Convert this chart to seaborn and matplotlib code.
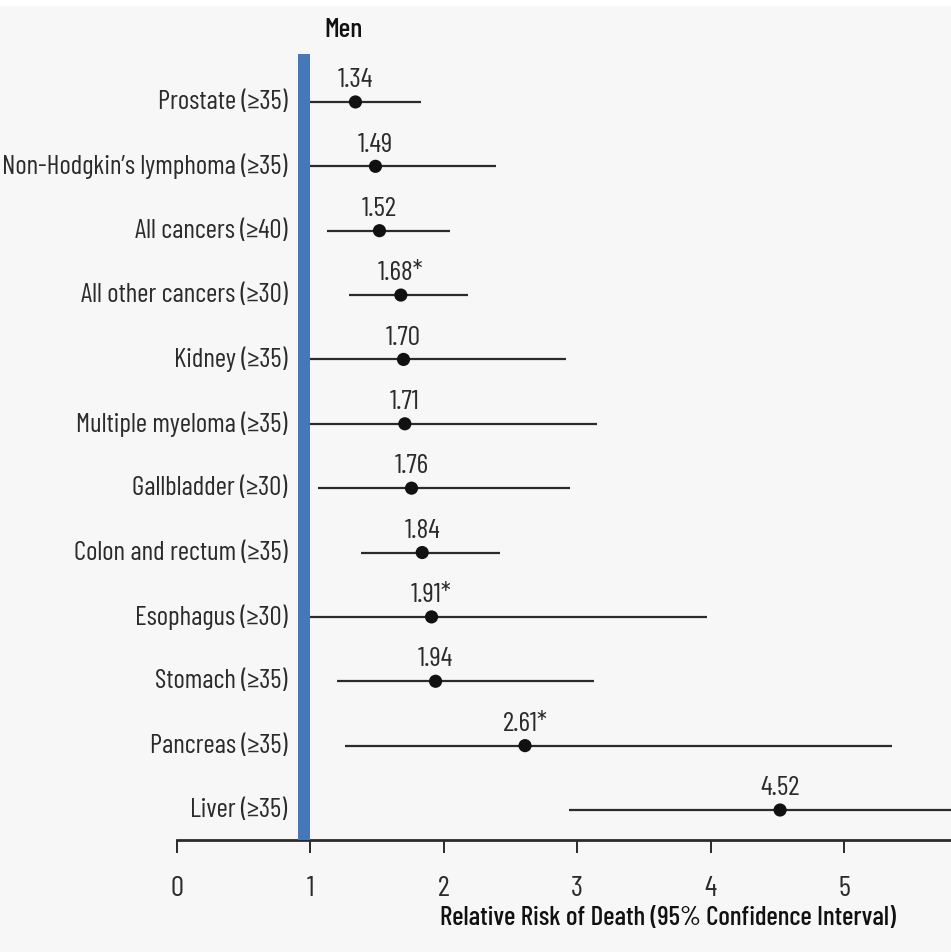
import matplotlib
matplotlib.use("Agg")
import matplotlib.pyplot as plt
from matplotlib.patches import Rectangle
import seaborn as sns
import pandas as pd

# Cancer sites (BMI threshold) with relative risk of death and 95% CI, men
sites = [
    "Prostate (≥35)",
    "Non-Hodgkin’s lymphoma (≥35)",
    "All cancers (≥40)",
    "All other cancers (≥30)",
    "Kidney (≥35)",
    "Multiple myeloma (≥35)",
    "Gallbladder (≥30)",
    "Colon and rectum (≥35)",
    "Esophagus (≥30)",
    "Stomach (≥35)",
    "Pancreas (≥35)",
    "Liver (≥35)",
]
rr = [1.34, 1.49, 1.52, 1.68, 1.70, 1.71, 1.76, 1.84, 1.91, 1.94, 2.61, 4.52]
ci_low = [0.98, 0.93, 1.13, 1.29, 0.99, 0.98, 1.06, 1.38, 0.98, 1.20, 1.26, 2.94]
ci_high = [1.83, 2.39, 2.05, 2.18, 2.92, 3.15, 2.95, 2.42, 3.97, 3.13, 5.36, 6.94]
flagged = [False, False, False, True, False, False, False, False, True, False, True, False]
x_ticks = [0, 1, 2, 3, 4, 5]

df = pd.DataFrame({"site": sites, "rr": rr, "lo": ci_low, "hi": ci_high,
                   "flag": flagged})
df["row"] = range(len(df))

sns.set_theme(style="white")
plt.rcParams["font.family"] = ["Barlow Condensed", "Fira Sans Extra Condensed",
                               "DejaVu Sans"]

BG = "#f7f7f7"
INK = "#2b2b2b"
FS_LABEL = 19.5
FS_VALUE = 20
FS_TICK = 21

fig = plt.figure(figsize=(9.51, 9.52), dpi=100, facecolor=BG)
ax = fig.add_axes([176.5 / 951, 1 - 840 / 952, 1 - 176.5 / 951, (840 - 54) / 952])
ax.set_facecolor(BG)
fig.patches.append(Rectangle((0, 1 - 6 / 952), 1, 6 / 952, transform=fig.transFigure,
                             facecolor="white", edgecolor="none", zorder=0))

# confidence intervals
ax.hlines(df["row"], df["lo"], df["hi"], color=INK, lw=1.6, zorder=2)
# point estimates
sns.scatterplot(data=df, x="rr", y="row", ax=ax, color="#111111", s=90,
                edgecolor="none", zorder=3, legend=False)

# reference band at RR = 1
ax.axvspan(0.912, 1.0, color="#4677b8", zorder=4, lw=0)

for _, r in df.iterrows():
    label = f"{r.rr:.2f}" + ("*" if r.flag else "")
    ax.text(r.rr, r.row - 0.23, label, ha="center", va="baseline", fontsize=FS_VALUE,
            color=INK, zorder=5)
    ax.text(0.83, r.row, r.site, ha="right", va="center", fontsize=FS_LABEL, color=INK)

ax.set_xlim(0, 5.8)
ax.set_ylim(len(sites) - 1 + 0.466, -0.745)
ax.set_yticks([])
ax.set_xticks(x_ticks)
ax.set_xticklabels([str(t) for t in x_ticks], fontsize=FS_TICK, color=INK)
ax.tick_params(axis="x", direction="out", length=9, width=1.4, color=INK, pad=17,
               bottom=True)
for side in ["top", "right", "left"]:
    ax.spines[side].set_visible(False)
ax.spines["bottom"].set_color(INK)
ax.spines["bottom"].set_linewidth(2)
ax.set_xlabel("")
ax.set_ylabel("")

fig.text(343 / 951, 1 - 30 / 952, "Men", ha="center", va="center", fontsize=20,
         color="#111111", fontweight=500)
fig.text(668 / 951, 1 - 918 / 952, "Relative Risk of Death (95% Confidence Interval)",
         ha="center", va="center", fontsize=FS_LABEL, color="#111111", fontweight=500)

fig.savefig("out.png", dpi=100, facecolor=BG)
